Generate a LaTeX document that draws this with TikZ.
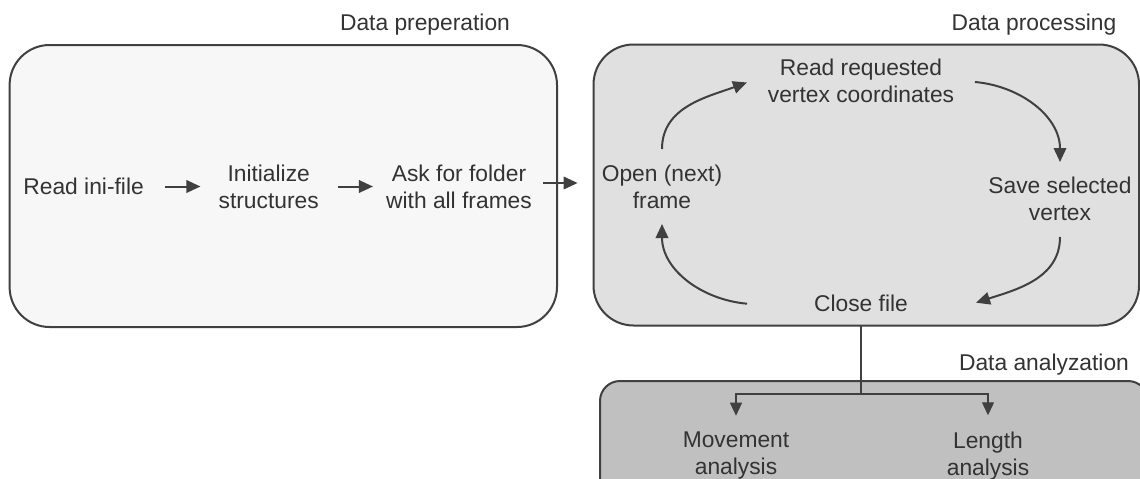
\documentclass[tikz,border=0pt]{standalone}
\usepackage{fontspec}
\setmainfont{Liberation Sans}
\usetikzlibrary{arrows.meta,calc}
\definecolor{txt}{HTML}{333333}
\definecolor{edge}{HTML}{404040}
\definecolor{fillA}{HTML}{F7F7F7}
\definecolor{fillB}{HTML}{E0E0E0}
\definecolor{fillC}{HTML}{C0C0C0}
\begin{document}
\begin{tikzpicture}[x=1pt,y=1pt,
  every node/.style={font=\fontsize{22.8}{27}\selectfont, text=txt, inner sep=0pt, align=center},
  panel/.style={draw=edge, line width=2pt},
  arr/.style={draw=edge, line width=2pt, -{Triangle[length=14pt,width=12.5pt]}},
  tarr/.style={draw=edge, line width=1.3pt, -{Triangle[length=13pt,width=12pt]}},
  link/.style={draw=edge, line width=1.3pt},
  title/.style={anchor=base}]
\useasboundingbox (0,0) rectangle (1140,-479);
\clip (0,0) rectangle (1140,-479);
\fill[white] (0,0) rectangle (1140,-479);
\draw[panel, fill=fillA, rounded corners=40pt] (9.6,-45) rectangle (557,-327);
\draw[panel, fill=fillB, rounded corners=40pt] (593.5,-44.5) rectangle (1139,-325.5);
\draw[panel, fill=fillC, rounded corners=20pt] (600,-381) rectangle (1148,-520);

\node[title] (t1) at (425,-30) {Data preperation};
\node[title] (t2) at (1034,-30) {Data processing};
\node[title] (t3) at (1044,-370) {Data analyzation};

\node (ini) at (83.6,-186.5) {Read ini-file};
\node (init) at (268.7,-186.5) {Initialize\\structures};
\node (ask) at (459,-186.5) {Ask for folder\\with all frames};
\node (read) at (861,-81) {Read requested\\vertex coordinates};
\node (open) at (662,-187) {Open (next)\\frame};
\node (save) at (1060,-199) {Save selected\\vertex};
\node (close) at (861,-303.7) {Close file};
\node (move) at (736,-455.6) {Movement\\analysis};
\node (len) at (988,-455.6) {Length\\analysis};

\draw[arr] ([xshift=21pt]ini.east) -- ([xshift=-18pt]init.west);
\draw[arr] ([xshift=19pt]init.east) -- ([xshift=-13pt]ask.west);
\draw[arr] ([xshift=11pt,yshift=3.5pt]ask.east) -- ([xshift=-24pt,yshift=4pt]open.west);

\draw[arr] ($(open)+(0,38)$) to[out=90,in=200] ($(read)+(-114,-1.5)$);
\draw[arr] ($(read)+(114,-1)$) to[out=-5,in=90] ($(save)+(0,37)$);
\draw[arr] ($(save)+(0,-38)$) to[out=-90,in=18] ($(close)+(115,1)$);
\draw[arr] ($(close)+(-114,0)$) to[out=175,in=-90] ($(open)+(0,-37)$);

\coordinate (split) at ($(close)+(0,-90.3)$);
\draw[link] ([yshift=-13pt]close.south) -- (split);
\draw[tarr] (split) -| ([yshift=16pt]move.north);
\draw[tarr] (split) -| ([yshift=16pt]len.north);
\end{tikzpicture}
\end{document}
